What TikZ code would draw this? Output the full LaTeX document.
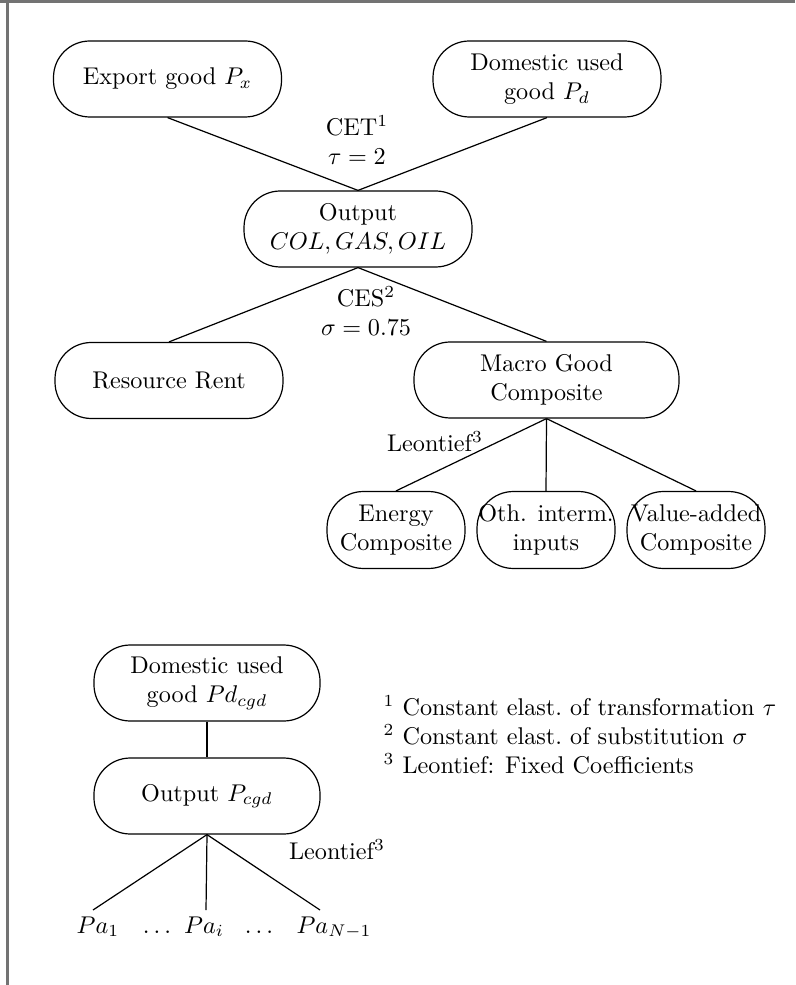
\documentclass[tikz,border=0pt]{standalone}
\begin{document}
\begin{tikzpicture}[x=0.4132pt,y=-0.4132pt,line width=0.5pt,
  box/.style={draw, rounded corners=15pt, align=center, inner sep=0pt,
              minimum width=94.2pt, minimum height=31.4pt},
  widebox/.style={box, minimum width=109.5pt},
  smallbox/.style={box, minimum width=57pt, minimum height=31.8pt},
  lbl/.style={align=center, inner sep=0pt},
  frame/.style={draw=black!55, line width=1pt}]
\useasboundingbox (0,0) rectangle (795,985);
% frame
\draw[frame] (0,1.5) -- (795,1.5);
\draw[frame] (7.5,0) -- (7.5,985);

% upper tree
\node[box] (ex)  at (167.5,79) {Export good $P_x$};
\node[box] (dom) at (547,79) {Domestic used\\good $P_d$};
\node[lbl] (cet) at (357,140) {CET$^1$\\$\tau=2$};
\node[box] (out) at (358,229) {Output\\$COL,GAS,OIL$};
\node[lbl] (ces) at (366,311) {CES$^2$\\$\sigma=0.75$};
\node[box] (rr)  at (169,380.5) {Resource Rent};
\node[widebox] (mac) at (546.5,380) {Macro Good\\Composite};
\node[lbl] (leo1) at (435,442) {Leontief$^3$};
\node[smallbox] (en)  at (396,530) {Energy\\Composite};
\node[smallbox] (oth) at (546,530) {Oth. interm.\\inputs};
\node[smallbox] (va)  at (696,530) {Value-added\\Composite};

\draw (ex.south) -- (out.north);
\draw (dom.south) -- (out.north);
\draw (out.south) -- (rr.north);
\draw (out.south) -- (mac.north);
\draw (mac.south) -- (en.north);
\draw (mac.south) -- (oth.north);
\draw (mac.south) -- (va.north);

% lower tree
\node[box, minimum width=93.4pt] (dom2) at (207,683) {Domestic used\\good $Pd_{cgd}$};
\node[box, minimum width=93.4pt] (out2) at (207,796) {Output $P_{cgd}$};
\node[lbl] (leo2) at (337,850) {Leontief$^3$};
\coordinate (e1) at (93,910);
\coordinate (e2) at (206,910);
\coordinate (e3) at (320,910);
\node[anchor=base] (pa1) at (98,933) {$Pa_1$};
\node[anchor=base] (dots1) at (157,933) {$\ldots$};
\node[anchor=base] (pai) at (204,933) {$Pa_i$};
\node[anchor=base] (dots2) at (259,933) {$\ldots$};
\node[anchor=base] (pan) at (334,933) {$Pa_{N-1}$};

\draw (dom2.south) -- (out2.north);
\draw (out2.south) -- (e1);
\draw (out2.south) -- (e2);
\draw (out2.south) -- (e3);

% footnotes
\node[lbl, align=left, anchor=west] (fn) at (383,735)
  {$^1$ Constant elast.\ of transformation $\tau$\\
   $^2$ Constant elast.\ of substitution $\sigma$\\
   $^3$ Leontief: Fixed Coefficients};
\end{tikzpicture}
\end{document}
